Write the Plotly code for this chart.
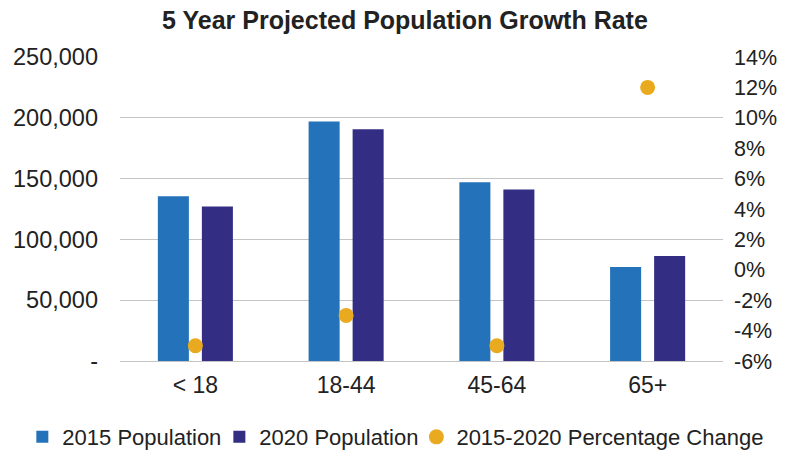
import plotly.graph_objects as go

categories = ["< 18", "18-44", "45-64", "65+"]
pop_2015 = [135500, 197000, 147000, 77300]
pop_2020 = [127000, 190500, 141000, 86300]
pct_change = [-5, -3, -5, 12]

left_tickvals = [0, 50000, 100000, 150000, 200000, 250000]
left_ticktext = ["-", "50,000", "100,000", "150,000", "200,000", "250,000"]
right_tickvals = [-6, -4, -2, 0, 2, 4, 6, 8, 10, 12, 14]
right_ticktext = [f"{v}%" for v in right_tickvals]

FONT = "Liberation Sans, Arial, Helvetica, sans-serif"
TXT = "#222222"

# The page body has an 8px margin, so the figure is sized 8px smaller
W, H = 790, 446
PLOT_L, PLOT_R = 112, 715   # plot area edges in figure pixels

fig = go.Figure()
fig.add_trace(go.Bar(x=categories, y=pop_2015, name="2015 Population",
                     marker=dict(color="#2372BA", line=dict(width=0))))
fig.add_trace(go.Bar(x=categories, y=pop_2020, name="2020 Population",
                     marker=dict(color="#332E84", line=dict(width=0))))
fig.add_trace(go.Scatter(x=categories, y=pct_change, name="2015-2020 Percentage Change",
                         mode="markers", yaxis="y2",
                         marker=dict(color="#EAAA20", size=15, line=dict(width=0))))

fig.update_layout(
    width=W, height=H,
    margin=dict(l=0, r=0, t=49, b=93, autoexpand=False),
    paper_bgcolor="white", plot_bgcolor="white",
    font=dict(family=FONT, color=TXT, size=22),
    title=dict(text="<b>5 Year Projected Population Growth Rate</b>",
               x=0.5025, xanchor="center", xref="container",
               y=0.972, yanchor="middle", yref="container",
               font=dict(size=25, color=TXT, family=FONT)),
    barmode="group", bargap=0.416, bargroupgap=0.295,
    showlegend=True,
    legend=dict(orientation="h", xref="paper", yref="container",
                x=0.027, xanchor="left", y=0.038, yanchor="middle",
                font=dict(size=22, color=TXT), itemwidth=30, indentation=-7,
                traceorder="normal", bgcolor="rgba(0,0,0,0)"),
    xaxis=dict(domain=[PLOT_L / W, PLOT_R / W],
               showgrid=False, showline=False, ticks="", tickfont=dict(size=23),
               ticklabelstandoff=8, automargin=False),
    yaxis=dict(range=[0, 250000], tickvals=left_tickvals, ticktext=left_ticktext,
               showgrid=True, gridcolor="#C4C4C4", gridwidth=1,
               zeroline=True, zerolinecolor="#C4C4C4", zerolinewidth=1,
               showline=False, ticks="", tickfont=dict(size=23.5),
               ticklabelstandoff=21, automargin=False),
    yaxis2=dict(range=[-6, 14], tickvals=right_tickvals, ticktext=right_ticktext,
                overlaying="y", side="right", showgrid=False, zeroline=False,
                showline=False, ticks="", tickfont=dict(size=21.5),
                ticklabelstandoff=10, automargin=False),
)

fig.write_html("out.html")
